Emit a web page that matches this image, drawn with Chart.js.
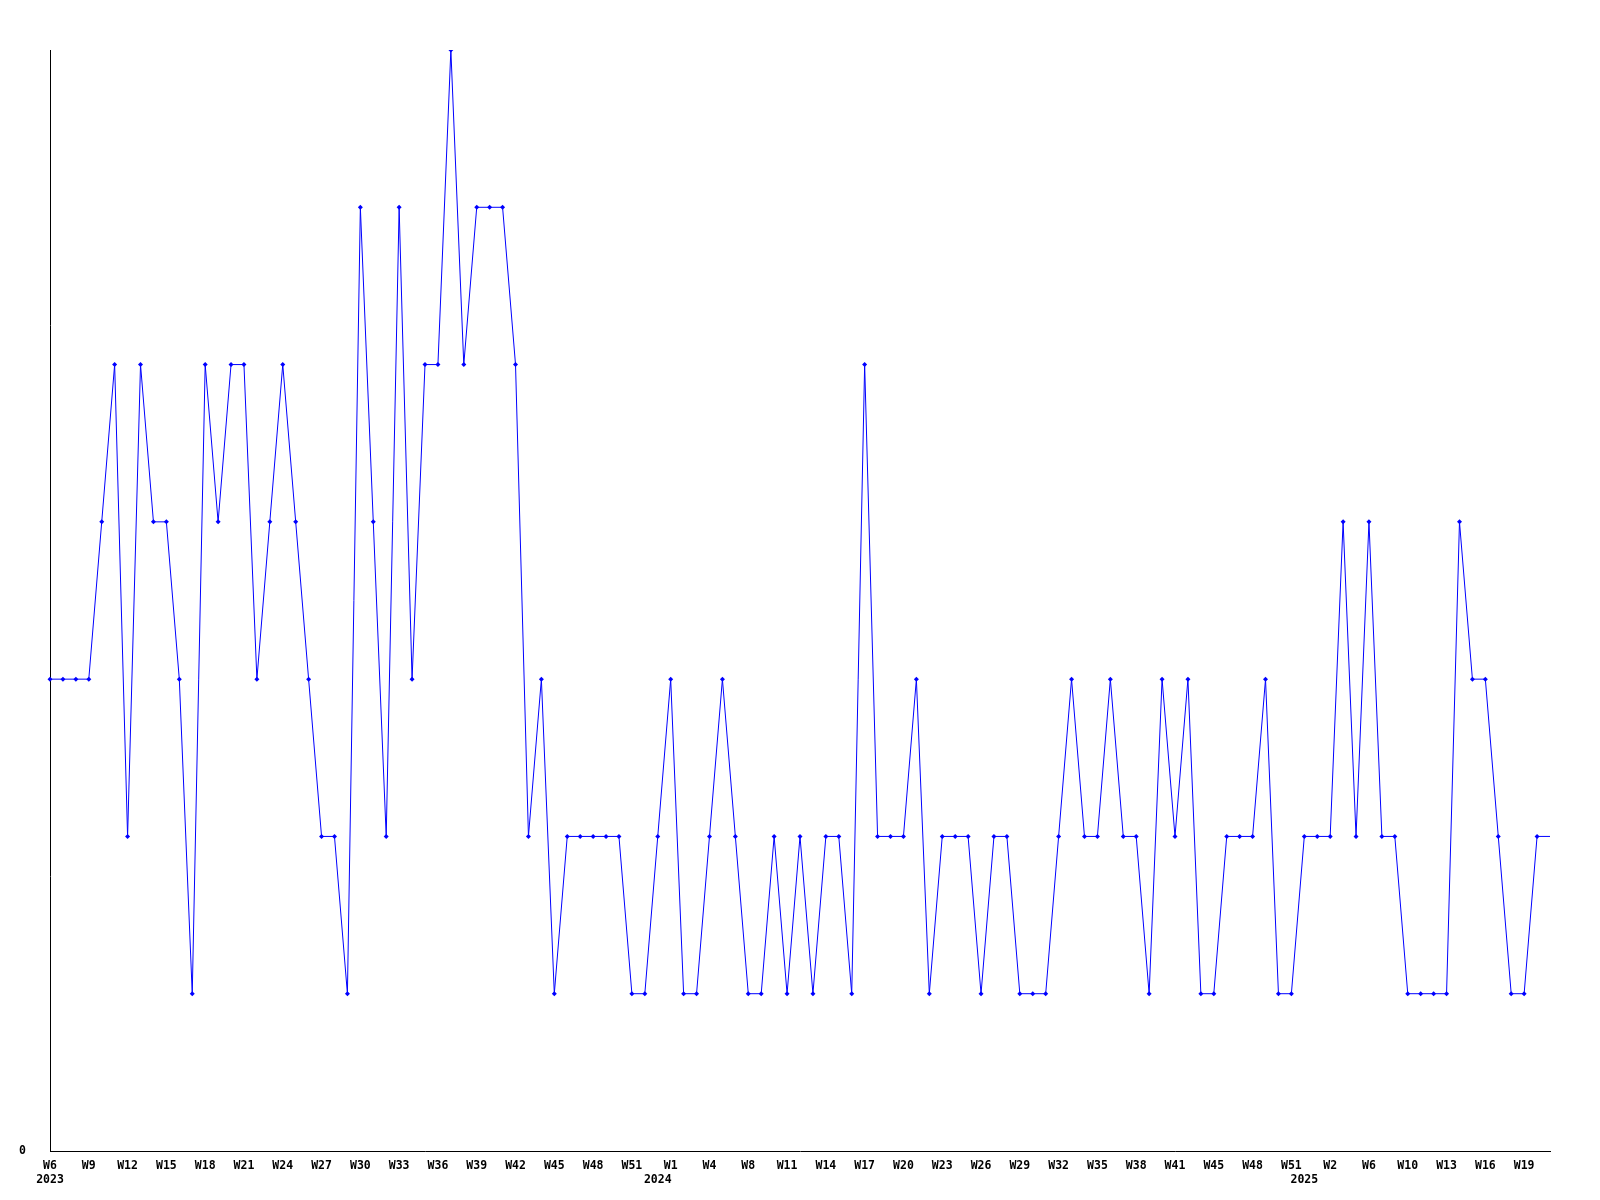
<!DOCTYPE html>
<html>
<head>
<meta charset="utf-8">
<script src="https://cdn.jsdelivr.net/npm/chart.js@4/dist/chart.umd.min.js"></script>
<style>
  html, body { margin: 0; padding: 0; background: #fff; }
  canvas { display: block; }
</style>
</head>
<body>
<canvas id="grafico" width="1600" height="1200"></canvas>
<script>
// weekly counts, one per point (last point is the current, unfinished week)
const values = [
    3, 3, 3, 3, 4, 5, 2, 5, 4, 4, 3, 1, 5, 4, 5, 5, 3, 4, 5, 4,
    3, 2, 2, 1, 6, 4, 2, 6, 3, 5, 5, 7, 5, 6, 6, 6, 5, 2, 3, 1,
    2, 2, 2, 2, 2, 1, 1, 2, 3, 1, 1, 2, 3, 2, 1, 1, 2, 1, 2, 1,
    2, 2, 1, 5, 2, 2, 2, 3, 1, 2, 2, 2, 1, 2, 2, 1, 1, 1, 2, 3,
    2, 2, 3, 2, 2, 1, 3, 2, 3, 1, 1, 2, 2, 2, 3, 1, 1, 2, 2, 2,
    4, 2, 4, 2, 2, 1, 1, 1, 1, 4, 3, 3, 2, 1, 1, 2, 2
];

// week label shown on every third point
const weekLabels = [
    'W6', 'W9', 'W12', 'W15', 'W18', 'W21', 'W24', 'W27', 'W30', 'W33', 'W36', 'W39', 'W42', 'W45', 'W48', 'W51',
    'W1', 'W4', 'W8', 'W11', 'W14', 'W17', 'W20', 'W23', 'W26', 'W29', 'W32', 'W35', 'W38', 'W41', 'W45', 'W48', 'W51',
    'W2', 'W6', 'W10', 'W13', 'W16', 'W19'
];

// year labels and the point where each year starts
const yearLabels = ['2023', '2024', '2025'];
const yearStarts = [0, 47, 97];

const categories = values.map((v, i) => i);
const lastIndex = values.length - 1;

const fonte = { family: '"DejaVu Sans Mono", monospace', size: 11.5, weight: 'bold', lineHeight: '14px' };

new Chart(document.getElementById('grafico'), {
    type: 'line',
    data: {
        labels: categories,
        datasets: [{
            data: values,
            borderColor: '#0000ff',
            backgroundColor: '#0000ff',
            borderWidth: 1,
            tension: 0,
            pointStyle: 'rectRot',
            pointRadius: ctx => ctx.dataIndex === lastIndex ? 0 : 2.5,
            pointBorderWidth: 0,
            fill: false
        }]
    },
    options: {
        responsive: false,
        animation: false,
        events: [],
        layout: { autoPadding: false, padding: { top: 50, right: 50, left: 0, bottom: 0 } },
        plugins: { legend: { display: false }, title: { display: false }, tooltip: { enabled: false } },
        scales: {
            x: {
                offset: false,
                grid: { display: false, drawTicks: false },
                border: { display: true, color: '#000', width: 1 },
                afterFit: s => { s.height = 49; },
                ticks: {
                    autoSkip: false,
                    maxRotation: 0,
                    minRotation: 0,
                    padding: 8,
                    color: '#000',
                    font: fonte,
                    callback: (val, i) => {
                        const week = i % 3 === 0 ? (weekLabels[i / 3] || '') : '';
                        const y = yearStarts.indexOf(i);
                        if (y >= 0) return [week, yearLabels[y]];
                        return week;
                    }
                }
            },
            y: {
                min: 0,
                max: 7,
                grid: { display: false, drawTicks: false },
                border: { display: true, color: '#000', width: 1 },
                afterFit: s => { s.width = 50; },
                ticks: {
                    stepSize: 1,
                    padding: 24,
                    color: '#000',
                    font: fonte,
                    callback: v => v === 0 ? '0' : ''
                }
            }
        }
    }
});
</script>
</body>
</html>
